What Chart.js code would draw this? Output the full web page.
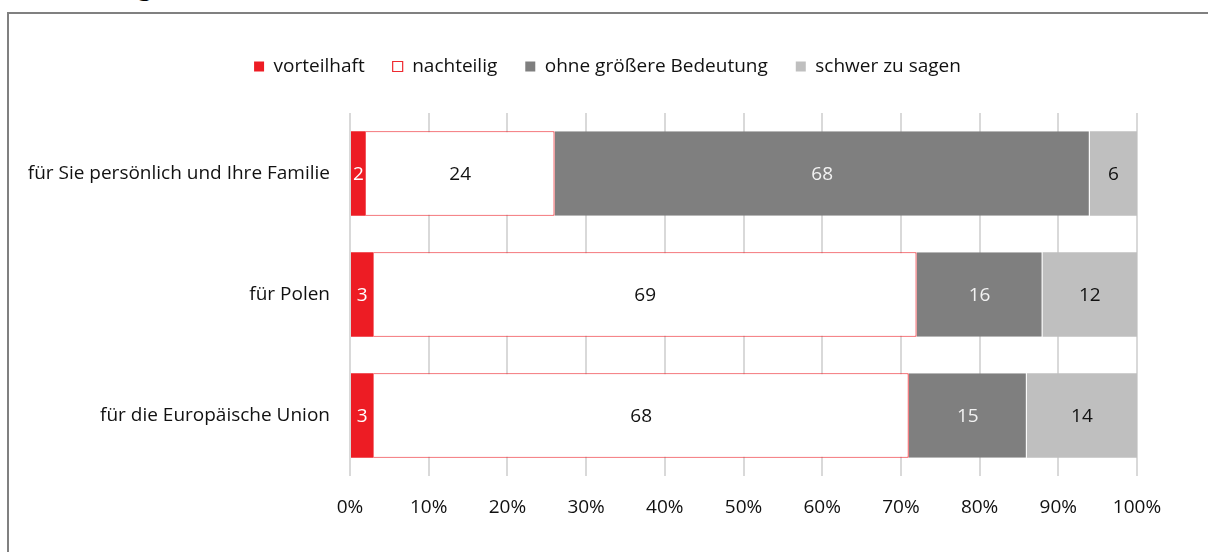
<!DOCTYPE html>
<html>
<head>
<meta charset="utf-8">
<script src="https://cdn.jsdelivr.net/npm/chart.js@4"></script>
<style>
  html, body { margin: 0; padding: 0; background: #fff; overflow: hidden; }
  #wrap { position: relative; width: 1208px; height: 552px; overflow: hidden; }
  #frame { position: absolute; left: 7px; top: 12px; width: 1400px; height: 700px;
           border-top: 2px solid #808080; border-left: 2px solid #808080; }
  .ttl { position: absolute; top: -33px; line-height: 35px; font-family: "DejaVu Serif", "Liberation Serif", serif;
         font-size: 30px; color: #000; white-space: nowrap; }
  #cv { position: absolute; left: 0; top: 0; }
</style>
</head>
<body>
<div id="wrap">
  <div class="ttl" style="left:-12px">Bewertung</div>
  <div class="ttl" style="left:206px">(%)</div>
  <div id="frame"></div>
  <canvas id="cv" width="1208" height="552"></canvas>
</div>
<script>
const categories = ["für Sie persönlich und Ihre Familie", "für Polen", "für die Europäische Union"];
const seriesNames = ["vorteilhaft", "nachteilig", "ohne größere Bedeutung", "schwer zu sagen"];
const vorteilhaft = [2, 3, 3];
const nachteilig = [24, 69, 68];
const ohneBedeutung = [68, 16, 15];
const schwerZuSagen = [6, 12, 14];
const xTicks = [0, 10, 20, 30, 40, 50, 60, 70, 80, 90, 100];

const FONT = "'Open Sans', 'Noto Sans', sans-serif";
const FS = 19;

const valueLabels = {
  id: 'valueLabels',
  afterDatasetsDraw(chart) {
    const ctx = chart.ctx;
    ctx.save();
    ctx.font = FS + "px " + FONT;
    ctx.textAlign = 'center';
    ctx.textBaseline = 'middle';
    chart.data.datasets.forEach((ds, i) => {
      const meta = chart.getDatasetMeta(i);
      meta.data.forEach((bar, j) => {
        const v = ds.data[j];
        const cx = (bar.x + bar.base) / 2;
        ctx.fillStyle = ds.labelColor;
        ctx.fillText(String(v), cx, bar.y + 1);
      });
    });
    ctx.restore();
  }
};

const legendGap = {
  id: 'legendGap',
  beforeInit(chart) {
    if (!chart.legend) return;
    const fit = chart.legend.fit;
    chart.legend.fit = function () {
      fit.bind(chart.legend)();
      this.height += 27;
    };
  },
  afterLayout(chart) {
    if (chart.legend) chart.legend.right += 78;
  }
};

new Chart(document.getElementById('cv'), {
  type: 'bar',
  data: {
    labels: categories,
    datasets: [
      { label: seriesNames[0], data: vorteilhaft, backgroundColor: '#ED1C24', borderColor: '#ED1C24', borderWidth: 0, labelColor: '#ffffff' },
      { label: seriesNames[1], data: nachteilig, backgroundColor: '#ffffff', borderColor: '#EE2A30', borderWidth: 1.2, labelColor: '#111111' },
      { label: seriesNames[2], data: ohneBedeutung, backgroundColor: '#7F7F7F', borderColor: '#ffffff', borderWidth: {left: 1, right: 1}, labelColor: '#f2f2f2' },
      { label: seriesNames[3], data: schwerZuSagen, backgroundColor: '#BFBFBF', borderColor: '#ffffff', borderWidth: {left: 1, right: 0}, labelColor: '#111111' }
    ]
  },
  options: {
    indexAxis: 'y',
    responsive: false,
    animation: false,
    devicePixelRatio: 1,
    barPercentage: 0.7,
    categoryPercentage: 1.0,
    layout: { padding: { top: 29, right: 71, bottom: 0, left: 0 } },
    scales: {
      x: {
        stacked: true,
        min: 0, max: 100,
        afterBuildTicks(scale) { scale.ticks = xTicks.map(v => ({ value: v })); },
        afterFit(scale) { scale.height = 76; },
        grid: { color: '#D9D9D9', lineWidth: 2, drawTicks: false },
        border: { display: false },
        ticks: {
          padding: 20,
          color: '#111111',
          font: { family: FONT, size: FS },
          callback: v => v + '%',
          maxRotation: 0
        }
      },
      y: {
        stacked: true,
        afterFit(scale) { scale.width = 350; },
        grid: { display: false, drawTicks: false },
        border: { display: false },
        ticks: {
          padding: 20,
          color: '#111111',
          font: { family: FONT, size: FS }
        }
      }
    },
    plugins: {
      legend: {
        position: 'top',
        labels: {
          boxWidth: 10,
          boxHeight: 10,
          padding: 28,
          color: '#111111',
          font: { family: FONT, size: FS },
          generateLabels(chart) {
            return chart.data.datasets.map((ds, i) => ({
              text: ds.label,
              fillStyle: ds.backgroundColor,
              strokeStyle: i === 1 ? '#EE2A30' : ds.backgroundColor,
              lineWidth: i === 1 ? 1.2 : 0,
              fontColor: '#111111',
              hidden: false,
              datasetIndex: i
            }));
          }
        }
      },
      tooltip: { enabled: false }
    }
  },
  plugins: [valueLabels, legendGap]
});
</script>
</body>
</html>
